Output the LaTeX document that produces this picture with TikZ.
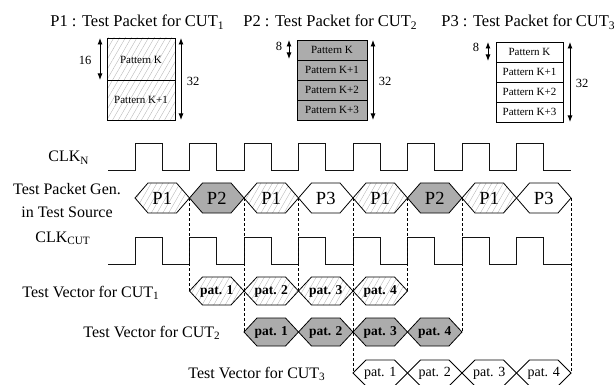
\documentclass[tikz,border=0pt]{standalone}
\usepackage{fontspec}
\setmainfont{Liberation Serif}
\usetikzlibrary{arrows.meta,patterns.meta}
\begin{document}
\begin{tikzpicture}[x=1pt,y=-1pt,line width=0.8pt,
  hatch/.style={pattern={Lines[angle=60,distance=5pt,line width=0.35pt]},pattern color=gray!60},
  dark/.style={fill=gray!65},
  plain/.style={fill=white},
  dim/.style={{Latex[length=6.5pt,width=5pt]}-{Latex[length=6.5pt,width=5pt]},line width=0.9pt},
  title/.style={font=\fontsize{16.5}{19}\selectfont,inner sep=0pt,anchor=base west},
  lbl/.style={font=\fontsize{16}{19}\selectfont,inner sep=0pt,anchor=base west},
  num/.style={font=\fontsize{12.5}{14}\selectfont,inner sep=0pt},
  patk/.style={font=\fontsize{11}{12}\selectfont,inner sep=0pt},
  wave/.style={line width=0.8pt,gray!15!black},
  guide/.style={line width=0.55pt,dash pattern=on 3pt off 2pt}]
\useasboundingbox (0,0) rectangle (616,385);

% ---- titles
\node[title] (t1) at (50,27) {P1 : Test Packet for CUT\textsubscript{1}};
\node[title] (t2) at (243,27) {P2 : Test Packet for CUT\textsubscript{2}};
\node[title] (t3) at (441,27) {P3 : Test Packet for CUT\textsubscript{3}};

% ---- P1 packet box
\fill[hatch] (107,38) rectangle (175,120);
\draw (107,38) rectangle (175,120);
\draw (107,80) -- (175,80);
\node[patk] (p1a) at (141,60) {Pattern K};
\node[patk] (p1b) at (141,100) {Pattern K+1};
\coordinate (a16t) at (100,38); \coordinate (a16b) at (100,80);
\draw[dim] (a16t) -- (a16b);
\node[num] (n16) at (85,60) {16};
\coordinate (a32t) at (181,38); \coordinate (a32b) at (181,120);
\draw[dim] (a32t) -- (a32b);
\node[num] (n32a) at (193,81) {32};

% ---- P2 packet box
\draw[dark] (297,40) rectangle (367,120);
\foreach \y in {60,80,100} \draw (297,\y) -- (367,\y);
\node[patk] (p2a) at (332,50) {Pattern K};
\node[patk] (p2b) at (332,70) {Pattern K+1};
\node[patk] (p2c) at (332,90) {Pattern K+2};
\node[patk] (p2d) at (332,110) {Pattern K+3};
\coordinate (a8t) at (289,40); \coordinate (a8b) at (289,59);
\draw[dim] (a8t) -- (a8b);
\node[num] (n8a) at (279,46) {8};
\coordinate (b32t) at (373,40); \coordinate (b32b) at (373,120);
\draw[dim] (b32t) -- (b32b);
\node[num] (n32b) at (385,81) {32};

% ---- P3 packet box
\draw[plain] (496,42) rectangle (563,122);
\foreach \y in {62,82,102} \draw (496,\y) -- (563,\y);
\node[patk] (p3a) at (529.5,52) {Pattern K};
\node[patk] (p3b) at (529.5,72) {Pattern K+1};
\node[patk] (p3c) at (529.5,92) {Pattern K+2};
\node[patk] (p3d) at (529.5,112) {Pattern K+3};
\coordinate (c8t) at (488,42); \coordinate (c8b) at (488,61);
\draw[dim] (c8t) -- (c8b);
\node[num] (n8b) at (476,47) {8};
\coordinate (c32t) at (570,42); \coordinate (c32b) at (570,122);
\draw[dim] (c32t) -- (c32b);
\node[num] (n32c) at (582,83) {32};

% ---- side labels
\node[lbl] (lclkn) at (48,162) {CLK\textsubscript{N}};
\node[font=\fontsize{16}{23}\selectfont,align=center,inner sep=0pt] (lgen) at (67,201) {Test Packet Gen.\\in Test Source};
\node[lbl] (lclkc) at (35,242) {CLK\textsubscript{CUT}};
\node[lbl] (lv1) at (22,297) {Test Vector for CUT\textsubscript{1}};
\node[lbl] (lv2) at (83,337) {Test Vector for CUT\textsubscript{2}};
\node[lbl] (lv3) at (188,378) {Test Vector for CUT\textsubscript{3}};

% ---- clocks
\def\per{54.5}
\foreach \yl/\yh in {170/143,264/237}{
  \draw[wave] (108,\yl)
    \foreach \i in {0,...,7}{ -- ({135+\i*\per},\yl) -- ({135+\i*\per},\yh) -- ({162+\i*\per},\yh) -- ({162+\i*\per},\yl)} -- (571,\yl);
}

% ---- hexagon macro: x1, x2, yc, halfh, style, label, name
\newcommand{\hexa}[7]{%
  \fill[#5] (#1,#3) -- ({#1+13},{#3-#4}) -- ({#2-13},{#3-#4}) -- (#2,#3) -- ({#2-13},{#3+#4}) -- ({#1+13},{#3+#4}) -- cycle;
  \draw (#1,#3) -- ({#1+13},{#3-#4}) -- ({#2-13},{#3-#4}) -- (#2,#3) -- ({#2-13},{#3+#4}) -- ({#1+13},{#3+#4}) -- cycle;
  \node[inner sep=0pt] (#7) at ({(#1+#2)/2},#3) {#6};
}

% packet generator row
\foreach \i/\s/\l in {0/hatch/P1,1/dark/P2,2/hatch/P1,3/plain/P3,4/hatch/P1,5/dark/P2,6/hatch/P1,7/plain/P3}{
  \pgfmathsetmacro\xa{135+\i*\per}
  \pgfmathsetmacro\xb{135+(\i+1)*\per}
  \hexa{\xa}{\xb}{198}{15}{\s}{\fontsize{18.5}{20}\selectfont\l}{g\i}
}

% test vectors CUT1
\foreach \k in {1,...,4}{
  \pgfmathsetmacro\xa{135+\k*\per}
  \pgfmathsetmacro\xb{135+(\k+1)*\per}
  \hexa{\xa}{\xb}{291}{14}{hatch}{\fontsize{13.5}{15}\selectfont\bfseries pat. \k}{va\k}
}
% CUT2
\foreach \k in {1,...,4}{
  \pgfmathsetmacro\xa{135+(\k+1)*\per}
  \pgfmathsetmacro\xb{135+(\k+2)*\per}
  \hexa{\xa}{\xb}{332}{14}{dark}{\fontsize{13.5}{15}\selectfont\bfseries pat. \k}{vb\k}
}
% CUT3
\foreach \k in {1,...,4}{
  \pgfmathsetmacro\xa{135+(\k+3)*\per}
  \pgfmathsetmacro\xb{135+(\k+4)*\per}
  \hexa{\xa}{\xb}{373}{13}{plain}{\fontsize{14}{15}\selectfont pat. \k}{vc\k}
}

% ---- dashed guides
\foreach \i/\y in {1/291,2/332,3/291,4/373,5/291,6/332,8/373}{
  \coordinate (gt\i) at ({135+\i*\per},198);
  \coordinate (gb\i) at ({135+\i*\per},\y);
  \draw[guide] (gt\i) -- (gb\i);
}
\end{tikzpicture}
\end{document}
